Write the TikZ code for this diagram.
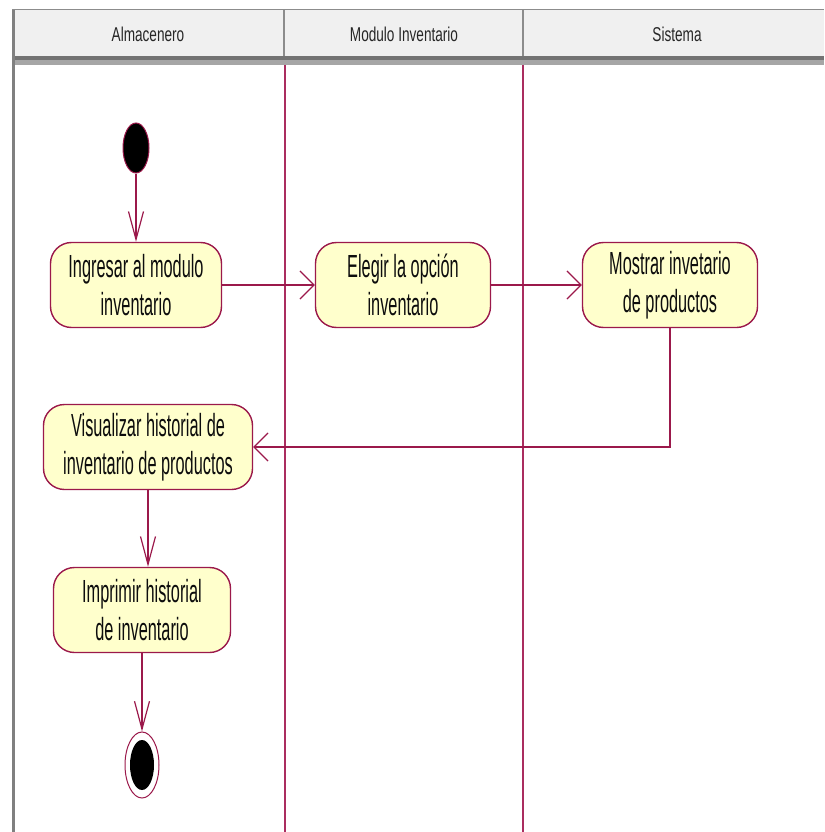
\documentclass[tikz,border=0pt]{standalone}
\usepackage{fontspec}
\usepackage{xcolor}
\usetikzlibrary{arrows.meta}
\usetikzlibrary{shapes.geometric}
\newfontfamily\actfont[FakeStretch=0.51]{Liberation Sans}
\newfontfamily\lanefont[FakeStretch=0.68]{Liberation Sans}
\definecolor{umlred}{RGB}{155,25,75}
\definecolor{lanered}{RGB}{170,45,95}
\definecolor{actfill}{RGB}{255,255,204}
\definecolor{headgray}{RGB}{240,240,240}
\colorlet{bordgray}{black!45}

\begin{document}
\begin{tikzpicture}[x=1pt, y=-1pt]
\tikzstyle{action}=[draw=umlred, fill=actfill, line width=1.4pt, rounded corners=21pt, minimum height=85pt, inner sep=0pt, align=center, text=black!95, font=\actfont\fontsize{32}{38}\selectfont]
\tikzstyle{lanehead}=[font=\lanefont\fontsize{20}{24}\selectfont, text=black!85]
\tikzstyle{flow}=[line width=1.4pt, umlred]
\tikzstyle{vtip}=[-{Straight Barb[length=28pt, width=15pt, line width=1.2pt]}]
\tikzstyle{htip}=[-{Straight Barb[length=14pt, width=28pt, line width=1.2pt]}]

\useasboundingbox (0,0) rectangle (824,832);

% swimlane header
\fill[headgray] (12,10) rectangle (824,57);
\draw[bordgray, line width=1pt] (12,10) -- (824,10);
\draw[bordgray, line width=1.5pt] (284,10) -- (284,57);
\draw[bordgray, line width=1.5pt] (523,10) -- (523,57);
\fill[black!55] (12,56) rectangle (824,60);
\fill[black!35] (12,60) rectangle (824,65);
\draw[black!50, line width=3pt] (13.5,10) -- (13.5,832);

\node[lanehead] (almacenero) at (148,34) {Almacenero};
\node[lanehead] (modulo) at (404,34) {Modulo Inventario};
\node[lanehead] (sistema) at (677,34) {Sistema};

% lane borders
\draw[lanered, line width=1.4pt] (285,65) -- (285,832);
\draw[lanered, line width=1.4pt] (523,65) -- (523,832);

% states
\node[ellipse, draw=umlred, fill=black, line width=1pt, minimum width=26pt, minimum height=50pt, inner sep=0pt] (inicio) at (136,148) {};

\node[action, minimum width=171pt] (ingresar) at (136,285) {Ingresar al modulo\\inventario};
\node[action, minimum width=175pt] (elegir) at (403,285) {Elegir la opci\'on\\inventario};
\node[action, minimum width=175pt] (mostrar) at (670,285) {Mostrar invetario\\de productos};
\node[action, minimum width=209pt] (visualizar) at (148,447) {Visualizar historial de\\inventario de productos};
\node[action, minimum width=177pt] (imprimir) at (142,610) {Imprimir historial\\de inventario};

\node[ellipse, draw=umlred, fill=white, line width=1pt, minimum width=34pt, minimum height=66pt, inner sep=0pt] (fin) at (142,765) {};
\fill[black] (fin.center) ellipse (12 and 25);

% transitions
\draw[flow, vtip] (inicio) -- (ingresar);
\draw[flow, htip] (ingresar) -- (elegir);
\draw[flow, htip] (elegir) -- (mostrar);
\draw[flow, htip] (mostrar.south) |- (visualizar.east);
\draw[flow, vtip] (visualizar.south) -- (visualizar.south |- imprimir.north);
\draw[flow, vtip] (imprimir) -- (fin);
\end{tikzpicture}
\end{document}
